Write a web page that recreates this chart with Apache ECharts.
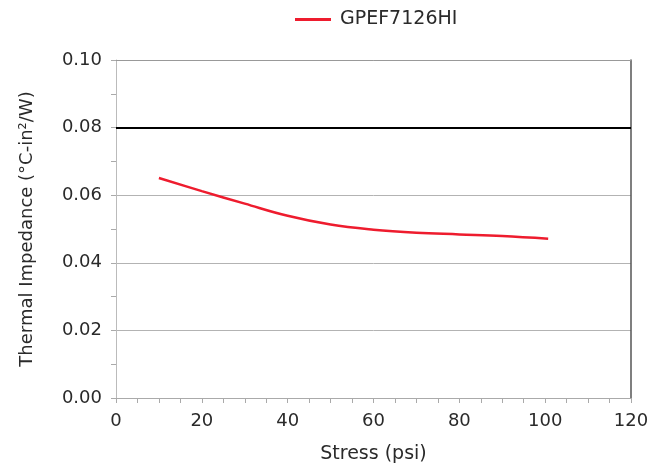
<!DOCTYPE html>
<html>
<head>
<meta charset="utf-8">
<script src="https://cdn.jsdelivr.net/npm/echarts@6/dist/echarts.min.js"></script>
<style>html,body{margin:0;padding:0;background:#fff;}#c{width:657px;height:464px;}</style>
</head>
<body>
<div id="c"></div>
<script>
const seriesName = 'GPEF7126HI';
const stress = [10, 20, 30, 40, 50, 60, 70, 80, 90, 100.7];
const impedance = [0.0651, 0.0612, 0.0575, 0.0539, 0.0513, 0.0498, 0.0489, 0.0484, 0.0479, 0.0471];
const limitValue = 0.08;

const chart = echarts.init(document.getElementById('c'), null, {renderer: 'canvas'});
const font = 'DejaVu Sans';
chart.setOption({
  animation: false,
  textStyle: {fontFamily: font},
  legend: {
    top: 5, left: 290,
    itemWidth: 36, itemHeight: 3, itemGap: 12,
    icon: 'rect',
    textStyle: {fontSize: 19, color: '#2a2a2a', fontFamily: font, padding: [0, 0, 0, 4]},
    data: [seriesName]
  },
  grid: {left: 116, right: 26, top: 60, bottom: 66, containLabel: false, outerBoundsMode: 'none'},
  xAxis: [{
    type: 'value', min: 0, max: 120, interval: 20,
    name: 'Stress (psi)', nameLocation: 'middle', nameGap: 47,
    nameTextStyle: {fontSize: 19, color: '#2a2a2a'},
    axisLine: {show: true, lineStyle: {color: '#aaa', width: 1}},
    axisTick: {show: true, length: 5, lineStyle: {color: '#aaa'}},
    minorTick: {show: true, splitNumber: 4, length: 5, lineStyle: {color: '#aaa'}},
    axisLabel: {fontSize: 18, color: '#2a2a2a', margin: 14},
    splitLine: {show: false}
  }, {
    type: 'value', min: 0, max: 120, position: 'top',
    axisLine: {show: true, onZero: false, lineStyle: {color: '#999', width: 1}},
    axisTick: {show: false}, axisLabel: {show: false}, splitLine: {show: false}
  }],
  yAxis: [{
    type: 'value', min: 0, max: 0.1, interval: 0.02,
    name: 'Thermal Impedance (°C-in²/W)', nameLocation: 'middle', nameGap: 80,
    nameTextStyle: {fontSize: 18, color: '#2a2a2a'},
    axisLine: {show: true, lineStyle: {color: '#bbb', width: 1}},
    axisTick: {show: true, length: 5, lineStyle: {color: '#aaa'}},
    minorTick: {show: true, splitNumber: 2, length: 5, lineStyle: {color: '#aaa'}},
    axisLabel: {fontSize: 18, color: '#2a2a2a', margin: 14, formatter: v => v.toFixed(2)},
    splitLine: {show: true, lineStyle: {color: '#b3b3b3', width: 1}}
  }, {
    type: 'value', min: 0, max: 0.1, position: 'right',
    axisLine: {show: true, onZero: false, lineStyle: {color: '#555', width: 1.5}},
    axisTick: {show: false}, axisLabel: {show: false}, splitLine: {show: false}
  }],
  series: [{
    name: seriesName, type: 'line', smooth: 0.4,
    data: stress.map((s, i) => [s, impedance[i]]),
    showSymbol: false, symbol: 'none',
    lineStyle: {color: '#ee1c2e', width: 2.5},
    itemStyle: {color: '#ee1c2e'},
    markLine: {
      silent: true, symbol: 'none', label: {show: false},
      lineStyle: {color: '#000', width: 2, type: 'solid'},
      data: [{yAxis: limitValue}]
    },
    z: 3
  }]
});
</script>
</body>
</html>
